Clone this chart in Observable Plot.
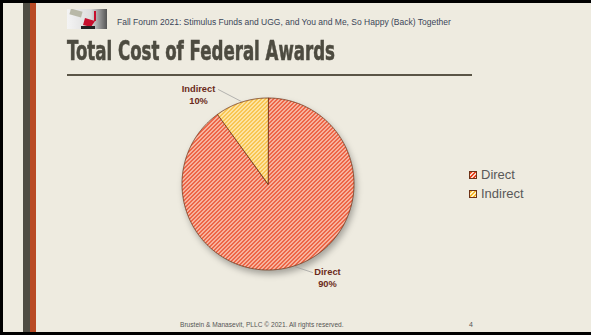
<!DOCTYPE html>
<html>
<head>
<meta charset="utf-8">
<script src="https://cdn.jsdelivr.net/npm/d3@7"></script>
<script src="https://cdn.jsdelivr.net/npm/@observablehq/plot@0.6"></script>
<style>
  html, body { margin: 0; padding: 0; background: #eeebe0; }
  body { width: 591px; height: 335px; overflow: hidden; position: relative; font-family: "Liberation Sans", Arial, sans-serif; }
  .abs { position: absolute; }
  .blk { position: absolute; background: #000; }
  #stripeDark { left: 23px; top: 0; width: 7px; height: 335px; background: #4f4d44; }
  #stripeOrange { left: 30px; top: 0; width: 6px; height: 335px; background: #b94a24; }
  #subtitle { left: 117px; top: 17px; font-size: 8.5px; color: #3b4658; white-space: nowrap; }
  #title { left: 67px; top: 35px; font-family: "DejaVu Sans Condensed", "DejaVu Sans", sans-serif; font-weight: bold; font-size: 27px; line-height: 32px; color: #4d4b40; white-space: nowrap; transform-origin: 0 0; -webkit-text-stroke: 0.6px #4d4b40; }
  #rule { left: 67px; top: 74px; width: 405px; height: 2px; background: #5a5547; }
  #footer { left: 180px; top: 321px; font-size: 6.6px; color: #555; white-space: nowrap; }
  #pagenum { left: 469px; top: 321px; font-size: 7px; color: #555; }
  #plotwrap { position: absolute; left: 0; top: 0; }
  #legend { left: 469px; top: 165px; font-size: 13px; color: #595959; }
  .lg { display: flex; align-items: center; height: 19px; }
  .lg svg { margin-right: 4px; }
</style>
</head>
<body>
  <div class="abs" id="stripeDark"></div>
  <div class="abs" id="stripeOrange"></div>
  <div class="blk" style="left:0;top:0;width:591px;height:3px"></div>
  <div class="blk" style="left:0;top:0;width:3px;height:335px"></div>
  <div class="blk" style="left:0;top:332px;width:591px;height:3px"></div>
  <svg class="abs" style="left:67px;top:9px" width="40" height="20">
    <defs>
      <linearGradient id="lg1" x1="0" x2="1"><stop offset="0" stop-color="#f4f4f4"/><stop offset="0.6" stop-color="#ddd"/><stop offset="1" stop-color="#555"/></linearGradient>
    </defs>
    <rect width="40" height="20" fill="url(#lg1)"/>
    <rect x="3" y="1" width="12" height="6" fill="#b9b9a8" transform="rotate(15 9 4)"/>
    <rect x="27" y="2" width="2" height="10" fill="#c8102e"/>
    <path d="M18 9 L28 12 L24 18 L16 16 Z" fill="#c8102e"/>
    <rect x="14" y="17" width="14" height="3" fill="#222"/>
  </svg>
  <div class="abs" id="subtitle">Fall Forum 2021: Stimulus Funds and UGG, and You and Me, So Happy (Back) Together</div>
  <div class="abs" id="title">Total Cost of Federal Awards</div>
  <div class="abs" id="rule"></div>
  <div class="abs" id="legend"></div>
  <div class="abs" id="footer">Brustein &amp; Manasevit, PLLC © 2021. All rights reserved.</div>
  <div class="abs" id="pagenum">4</div>
  <div id="plotwrap"></div>
<svg width="0" height="0" style="position:absolute">
  <defs>
    <pattern id="pDirect" patternUnits="userSpaceOnUse" width="4" height="4" shape-rendering="crispEdges">
      <rect width="4" height="4" fill="#fbd8c8"/>
      <g fill="#e8401c">
        <rect x="0" y="2" width="1" height="1"/><rect x="1" y="1" width="1" height="1"/><rect x="2" y="0" width="1" height="1"/><rect x="3" y="3" width="1" height="1"/>
        <rect x="0" y="3" width="1" height="1"/><rect x="1" y="2" width="1" height="1"/><rect x="2" y="1" width="1" height="1"/><rect x="3" y="0" width="1" height="1"/>
      </g>
    </pattern>
    <pattern id="pIndirect" patternUnits="userSpaceOnUse" width="4" height="4" shape-rendering="crispEdges">
      <rect width="4" height="4" fill="#fff3c8"/>
      <g fill="#f6b52c">
        <rect x="0" y="2" width="1" height="1"/><rect x="1" y="1" width="1" height="1"/><rect x="2" y="0" width="1" height="1"/><rect x="3" y="3" width="1" height="1"/>
        <rect x="0" y="3" width="1" height="1"/><rect x="1" y="2" width="1" height="1"/><rect x="2" y="1" width="1" height="1"/><rect x="3" y="0" width="1" height="1"/>
      </g>
    </pattern>
  </defs>
</svg>
<script>
// ---- data ----
const categories = ["Direct", "Indirect"];
const shares = [90, 10];
const labelTexts = ["Direct\n90%", "Indirect\n10%"];

// ---- layout (pixels / styling) ----
const W = 591, H = 335, cx = 267.5, cy = 183.5, R = 86;
const fills = ["url(#pDirect)", "url(#pIndirect)"];
const labelPolar = [{a: 147.4, r: 1.284}, {a: 322.2, r: 1.318}];   // degrees clockwise from top
const leaderEnd = [{a: 153.3, r: 1.152}, {a: 332.3, r: 1.24}];

// fit title width
const t = document.getElementById("title");
const tw = t.getBoundingClientRect().width;
t.style.transform = `scaleX(${268 / tw})`;

const rad = d => d * Math.PI / 180;
const slices = d3.pie().sort(null).value(d => d.value)(
  categories.map((c, i) => ({name: c, value: shares[i]}))
);

// polygon points for each slice, from pie angles
const pts = [];
slices.forEach(s => {
  pts.push({name: s.data.name, x: 0, y: 0});
  const n = Math.max(2, Math.ceil((s.endAngle - s.startAngle) / 0.01));
  for (let k = 0; k <= n; k++) {
    const a = s.startAngle + (s.endAngle - s.startAngle) * k / n;
    pts.push({name: s.data.name, x: Math.sin(a), y: Math.cos(a)});
  }
});

const labels = slices.map((s, i) => ({
  name: s.data.name, text: labelTexts[i],
  x: labelPolar[i].r * Math.sin(rad(labelPolar[i].a)),
  y: labelPolar[i].r * Math.cos(rad(labelPolar[i].a))
}));
const leaders = [];
slices.forEach((s, i) => {
  const mid = (s.startAngle + s.endAngle) / 2;
  leaders.push({name: s.data.name, x: 1.01 * Math.sin(mid), y: 1.01 * Math.cos(mid)});
  leaders.push({name: s.data.name, x: leaderEnd[i].r * Math.sin(rad(leaderEnd[i].a)), y: leaderEnd[i].r * Math.cos(rad(leaderEnd[i].a))});
});

const plot = Plot.plot({
  width: W, height: H, margin: 0,
  style: {background: "transparent", overflow: "visible"},
  x: {domain: [-cx / R, (W - cx) / R], axis: null},
  y: {domain: [-(H - cy) / R, cy / R], axis: null},
  color: {domain: categories, range: fills},
  marks: [
    Plot.line(pts, {x: "x", y: "y", z: "name", fill: "name", stroke: "#6e3318", strokeWidth: 0.8, curve: "linear-closed"}),
    Plot.line(leaders, {x: "x", y: "y", z: "name", stroke: "#9a9a9a", strokeWidth: 0.7}),
    Plot.text(labels, {x: "x", y: "y", text: "text", fill: "#6b2a1a", fontSize: 9.3, fontWeight: "bold", fontFamily: "Liberation Sans, Arial, sans-serif", lineHeight: 1.25})
  ]
});
const pieG = plot.querySelector('g[aria-label="line"]');
if (pieG) pieG.style.filter = "drop-shadow(2px 4px 3px rgba(0,0,0,0.3))";
document.getElementById("plotwrap").appendChild(plot);

// legend
const lg = document.getElementById("legend");
categories.forEach((c, i) => {
  const row = document.createElement("div");
  row.className = "lg";
  row.innerHTML = `<svg width="8" height="8"><rect x="0.5" y="0.5" width="7" height="7" fill="${fills[i]}" stroke="#6e3318" stroke-width="1"/></svg><span>${c}</span>`;
  lg.appendChild(row);
});
</script>
</body>
</html>
